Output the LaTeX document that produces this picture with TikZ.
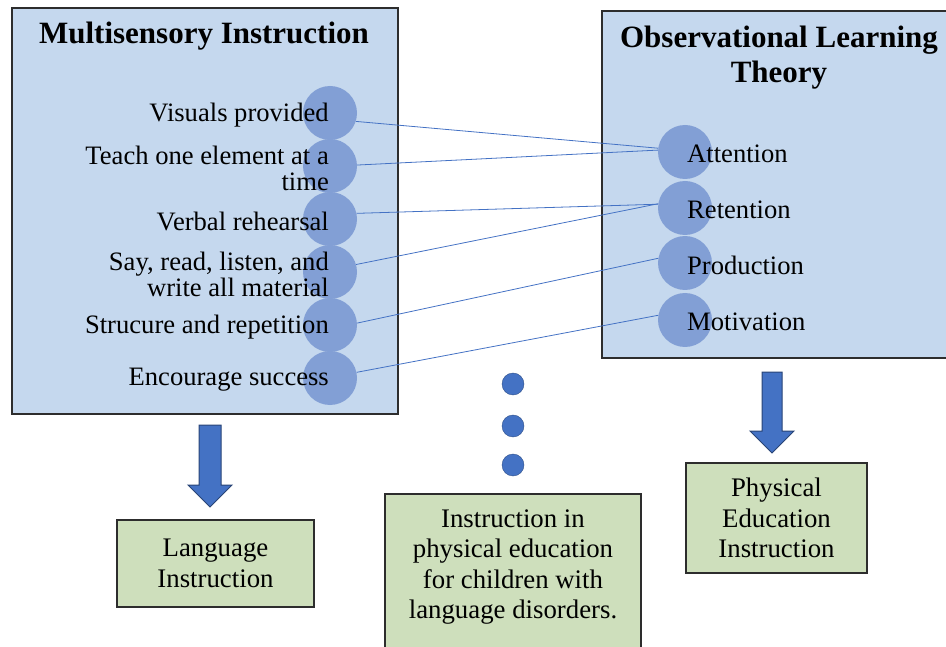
\documentclass[tikz,border=0pt]{standalone}
\usepackage{fontspec}
\setmainfont{Liberation Serif}
\usetikzlibrary{positioning}

\definecolor{boxblue}{RGB}{197,216,238}
\definecolor{dotblue}{RGB}{68,114,196}
\definecolor{ringblue}{RGB}{130,159,213}
\definecolor{boxgreen}{RGB}{206,223,188}
\definecolor{edge}{RGB}{45,45,45}

\begin{document}
\begin{tikzpicture}[x=1pt, y=-1pt,
        panel/.style={rectangle, draw=edge, line width=1.6pt, fill=boxblue,
                      inner sep=0pt},
        result/.style={rectangle, draw=edge, line width=1.6pt, fill=boxgreen,
                       inner sep=0pt},
        restext/.style={align=center, inner sep=0pt,
                        font=\fontsize{26.8}{30.5}\selectfont},
        ball/.style={circle, fill=ringblue, minimum size=54pt, inner sep=0pt},
        item/.style={inner sep=0pt, yshift=-2pt, font=\fontsize{26.6}{26}\selectfont},
        head/.style={align=center, font=\fontsize{31}{35}\selectfont\bfseries},
        link/.style={draw=dotblue, line width=0.8pt},
        dot/.style={circle, fill=dotblue, draw=dotblue!70!black,
                    minimum size=22pt, inner sep=0pt},
        barr/.style={fill=dotblue, draw=dotblue!60!black, line width=1pt}]
      \useasboundingbox (0,0) rectangle (946,647);

      % the two theory panels
      \node[panel, minimum width=386, minimum height=406, anchor=north west] (ms) at (11,7) {};
      \node[panel, minimum width=352, minimum height=347, anchor=north west] (ol) at (601,10) {};
      \node[head] (mstitle) at (204,36) {Multisensory Instruction};
      \node[head] (oltitle) at (779,58) {Observational Learning\\Theory};

      % multisensory items
      \node[ball] (vis) at (330,113) {};
      \node[ball] (tea) at (330,166) {};
      \node[ball] (ver) at (330,219) {};
      \node[ball] (say) at (330,272) {};
      \node[ball] (str) at (330,325) {};
      \node[ball] (enc) at (330,378) {};
      \node[item, anchor=east] (vist) at (329,113) {Visuals provided};
      \node[item, anchor=east, align=right] (teat) at (329,166) {Teach one element at a\\time};
      \node[item, anchor=east] (vert) at (329,219) {Verbal rehearsal};
      \node[item, anchor=east, align=right] (sayt) at (329,272) {Say, read, listen, and\\write all material};
      \node[item, anchor=east] (strt) at (329,325) {Strucure and repetition};
      \node[item, anchor=east] (enct) at (329,378) {Encourage success};

      % observational learning steps
      \node[ball] (att) at (685,152) {};
      \node[ball] (ret) at (685,208) {};
      \node[ball] (pro) at (685,263) {};
      \node[ball] (mot) at (685,320) {};
      \node[item, anchor=west] (attt) at (687,152) {Attention};
      \node[item, anchor=west] (rett) at (687,208) {Retention};
      \node[item, anchor=west] (prot) at (687,263) {Production};
      \node[item, anchor=west] (mott) at (687,320) {Motivation};

      % links between the panels
      \draw[link] (vis.-18) -- (att.172);
      \draw[link] (tea.2) -- (att.176);
      \draw[link] (ver.12) -- (ret.172);
      \draw[link] (say.16) -- (ret.171);
      \draw[link] (str.4) -- (pro.170);
      \draw[link] (enc.12) -- (mot.170);

      % dots
      \foreach \y/\n in {384/1, 426/2, 465/3}
        \node[dot] (dot\n) at (513,\y) {};

      % outcome boxes
      \node[result, minimum width=197, minimum height=87] (lang) at (215.5,563.5) {};
      \node[restext] (langt) at (lang.center) {Language\\Instruction};
      \node[result, minimum width=256, minimum height=165, anchor=north] (kids) at (513,493) {};
      \node[restext] (kidst) at (513,567) {Instruction in\\physical education\\for children with\\language disorders.};
      \node[result, minimum width=181, minimum height=110] (pe) at (776.5,518) {};
      \node[restext] (pet) at (pe.center) {Physical\\Education\\Instruction};

      % block arrows
      \draw[barr] (199,425) -- ++(22,0) -- ++(0,60) -- ++(11,0) -- ++(-22,22)
                  -- ++(-22,-22) -- ++(11,0) -- cycle;
      \draw[barr] (762,372) -- ++(20,0) -- ++(0,59) -- ++(12,0) -- ++(-22,22)
                  -- ++(-22,-22) -- ++(12,0) -- cycle;
    \end{tikzpicture}
\end{document}
